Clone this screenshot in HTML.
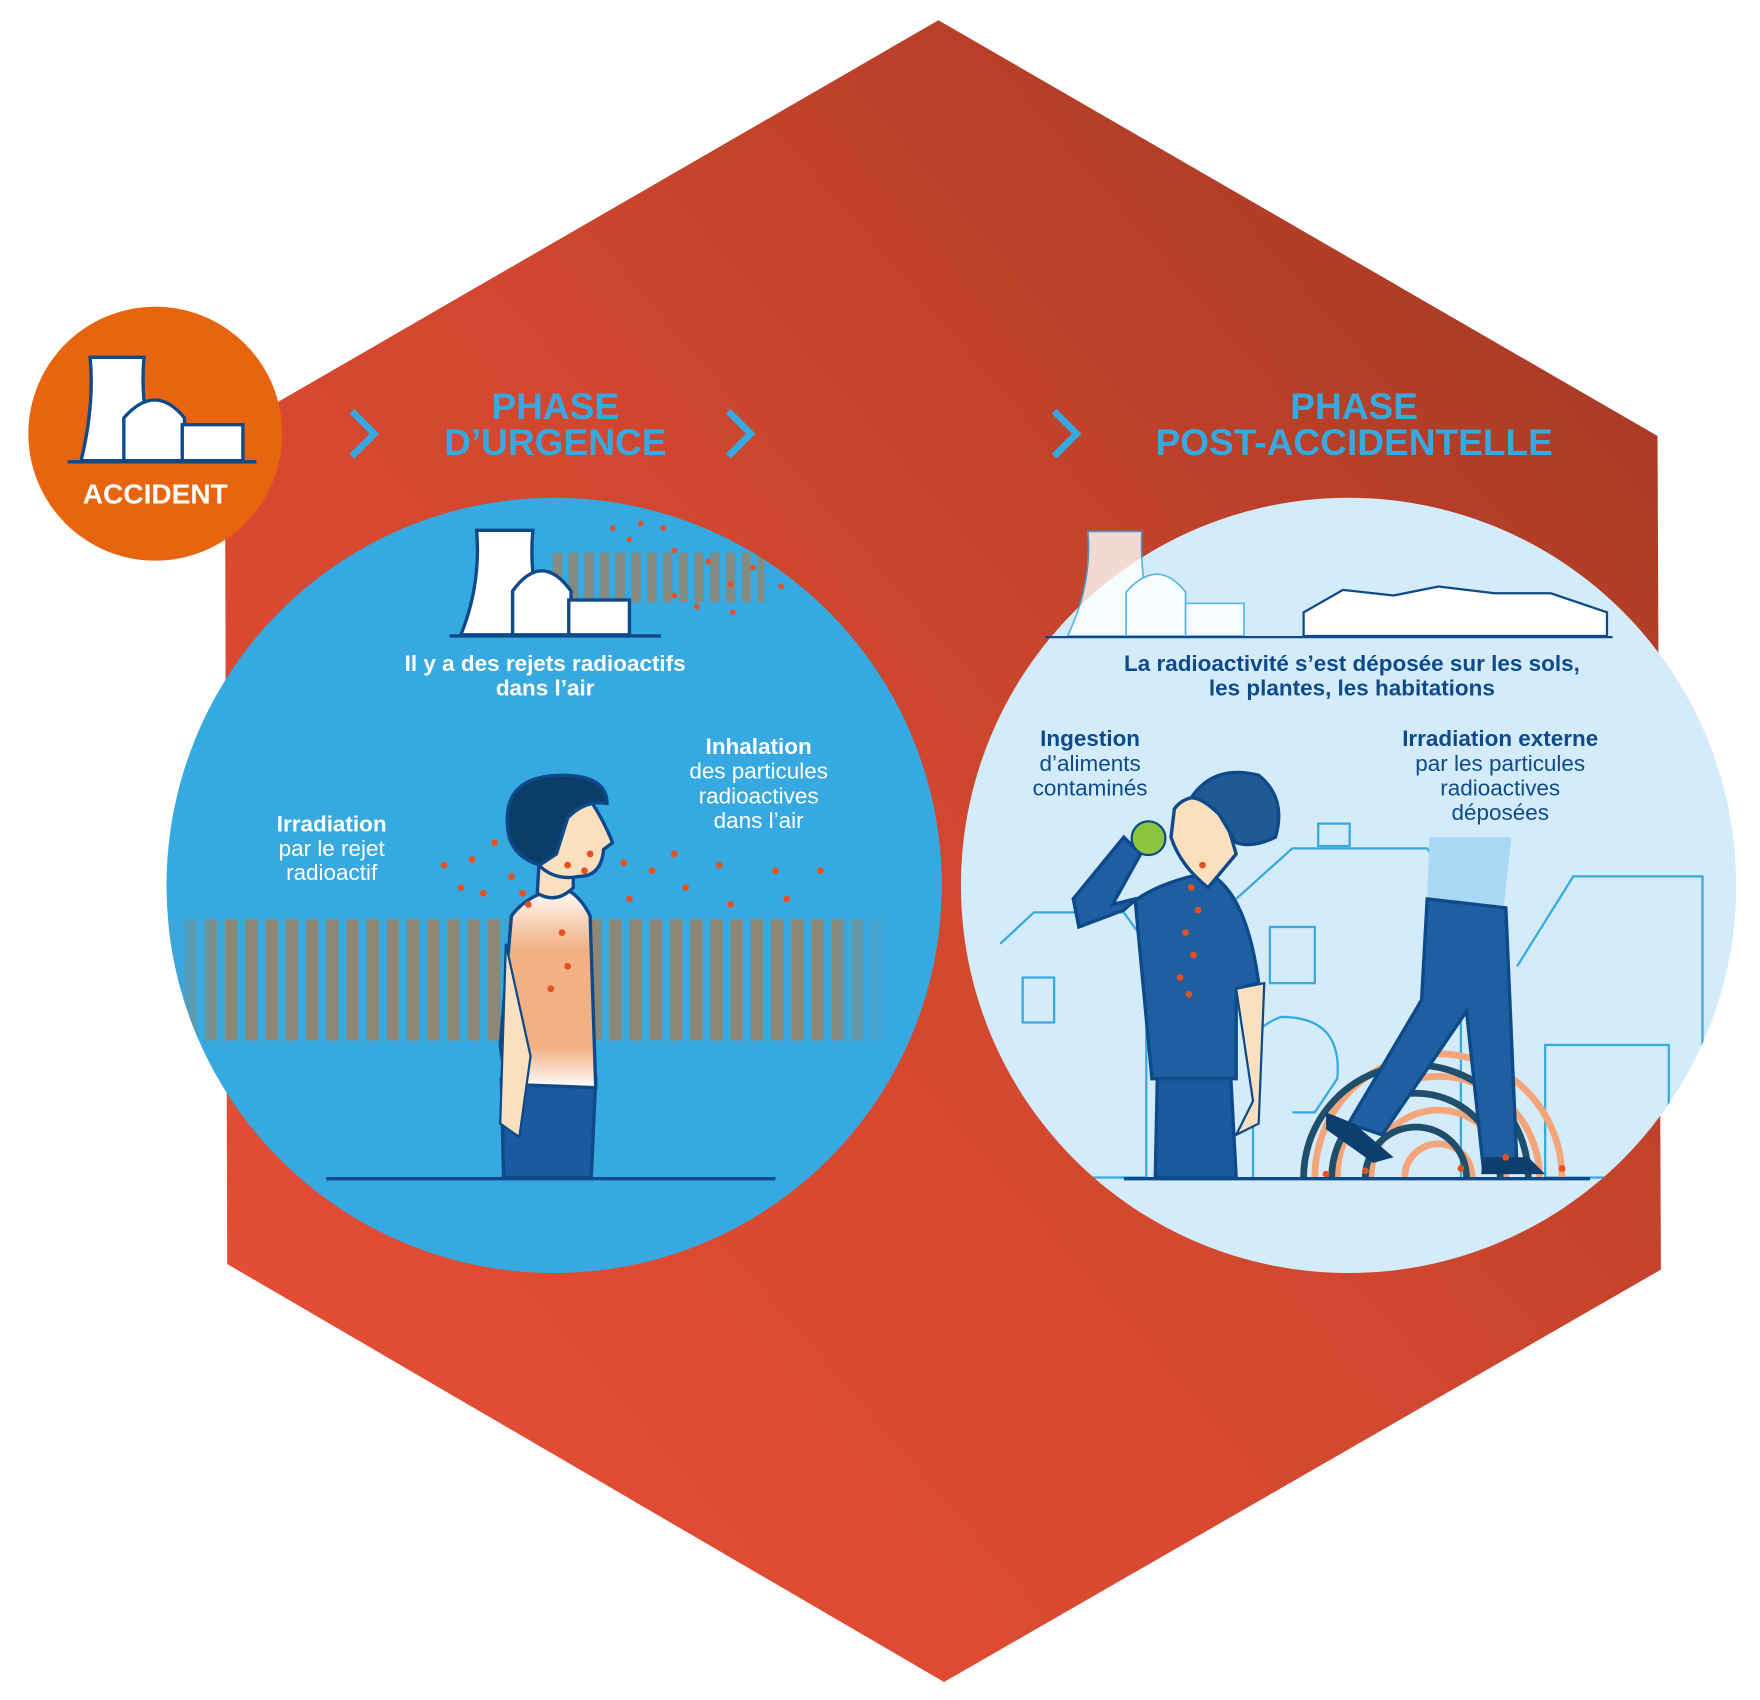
<!DOCTYPE html>
<html><head><meta charset="utf-8"><style>
html,body{margin:0;padding:0;background:#fff;}
svg{display:block;}
text{font-family:"Liberation Sans",sans-serif;}
</style></head><body>
<svg width="1760" height="1700" viewBox="0 0 1566 1513" xmlns="http://www.w3.org/2000/svg">
<defs>
<linearGradient id="hex" x1="0" y1="1" x2="1" y2="0">
<stop offset="0" stop-color="#e84f36"/><stop offset="0.5" stop-color="#d2472f"/><stop offset="1" stop-color="#9e3822"/>
</linearGradient>
<pattern id="waves" width="18" height="120" patternUnits="userSpaceOnUse">
<rect width="18" height="120" fill="#36a9e0"/><rect x="2" width="11" height="120" fill="#8f8775"/>
</pattern>
<linearGradient id="fadeL" x1="0" x2="1"><stop offset="0" stop-color="#36a9e0" stop-opacity="1"/><stop offset="0.08" stop-color="#36a9e0" stop-opacity="0"/><stop offset="0.92" stop-color="#36a9e0" stop-opacity="0"/><stop offset="1" stop-color="#36a9e0" stop-opacity="1"/></linearGradient>
<pattern id="wavesTop" width="14" height="60" patternUnits="userSpaceOnUse">
<rect width="14" height="60" fill="#36a9e0"/><rect x="2" width="8" height="60" fill="#8f8775"/>
</pattern>
<linearGradient id="shirt" x1="0" y1="0" x2="0" y2="1"><stop offset="0" stop-color="#fff"/><stop offset="0.3" stop-color="#f2b185"/><stop offset="0.8" stop-color="#f2b185"/><stop offset="1" stop-color="#fff"/></linearGradient>
</defs>

<polygon points="835,18 1475,388 1478,1130 840,1497 202,1125 200,385" fill="url(#hex)"/>

<circle cx="138" cy="386" r="113" fill="#e8650f"/>
<g stroke="#0e4a8a" stroke-width="3" fill="#fff">
<path d="M72,410 Q84,360 80,318 L128,318 Q124,360 138,410 Z"/>
<path d="M110,410 L110,372 Q138,340 164,372 L164,410 Z"/>
<rect x="162" y="378" width="54" height="32"/>
<line x1="60" y1="411" x2="228" y2="411"/>
</g>
<text x="138" y="448" text-anchor="middle" font-size="25" font-weight="bold" fill="#fff">ACCIDENT</text>

<g fill="none" stroke="#36a9e0" stroke-width="6">
<polyline points="313,366 333,386 313,406"/>
<polyline points="648,366 668,386 648,406"/>
<polyline points="938,366 958,386 938,406"/>
</g>
<g font-size="33" font-weight="bold" fill="#36a9e0" text-anchor="middle">
<text x="494" y="373">PHASE</text><text x="494" y="405">D’URGENCE</text>
<text x="1205" y="373">PHASE</text><text x="1205" y="405">POST-ACCIDENTELLE</text>
</g>

<circle cx="493" cy="788" r="345" fill="#36a9e0"/>
<clipPath id="cl"><circle cx="493" cy="788" r="345"/></clipPath>
<g clip-path="url(#cl)">
<rect x="150" y="818" width="640" height="108" fill="url(#waves)"/>
<rect x="150" y="818" width="640" height="108" fill="url(#fadeL)"/>
<rect x="490" y="492" width="190" height="44" fill="url(#wavesTop)" opacity="0.9"/>
</g>
<g stroke="#0e4a8a" stroke-width="3" fill="#fff">
<path d="M410,565 Q428,520 424,472 L474,472 Q470,520 486,565 Z"/>
<path d="M456,565 L456,526 Q482,490 508,526 L508,565 Z"/>
<rect x="506" y="534" width="54" height="31"/>
<line x1="400" y1="566" x2="588" y2="566"/>
</g>
<g fill="#e8501e">
<circle cx="570" cy="466" r="2.5"/><circle cx="590" cy="470" r="2.5"/><circle cx="600" cy="490" r="2.5"/><circle cx="630" cy="500" r="2.5"/><circle cx="650" cy="520" r="2.5"/><circle cx="670" cy="505" r="2.5"/><circle cx="695" cy="522" r="2.5"/><circle cx="620" cy="540" r="2.5"/><circle cx="652" cy="545" r="2.5"/><circle cx="600" cy="530" r="2.5"/><circle cx="560" cy="480" r="2.5"/><circle cx="545" cy="470" r="2.5"/>
</g>
<g font-size="20" fill="#fff" text-anchor="middle">
<text x="485" y="597" font-weight="bold">Il y a des rejets radioactifs</text>
<text x="485" y="619" font-weight="bold">dans l’air</text>
<text x="295" y="740" font-weight="bold">Irradiation</text>
<text x="295" y="762">par le rejet</text>
<text x="295" y="783">radioactif</text>
<text x="675" y="671" font-weight="bold">Inhalation</text>
<text x="675" y="693">des particules</text>
<text x="675" y="715">radioactives</text>
<text x="675" y="737">dans l’air</text>
</g>
<path d="M448,1048 L446,960 L530,960 L526,1048 Z" fill="#1a5a9e" stroke="#0e4a8a" stroke-width="3"/>
<path d="M500,790 Q470,795 455,815 L445,930 L450,965 L530,968 L525,815 Q515,795 500,790 Z" fill="url(#shirt)" stroke="#0e4a8a" stroke-width="3"/>
<path d="M450,840 L445,1000 L462,1012 L472,940 Z" fill="#fbe0c0" stroke="#0e4a8a" stroke-width="2"/>
<path d="M480,760 L478,795 Q495,805 510,790 L510,760 Z" fill="#fbe0c0" stroke="#0e4a8a" stroke-width="3"/>
<path d="M470,720 Q478,700 520,705 Q535,725 545,750 L537,756 Q535,780 515,780 Q490,785 475,765 Z" fill="#fbe0c0" stroke="#0e4a8a" stroke-width="3"/>
<path d="M452,740 Q445,690 500,690 Q540,690 540,715 Q520,712 505,728 L495,760 L480,770 Q455,762 452,740 Z" fill="#0a3e68" stroke="#0e4a8a" stroke-width="3"/>
<g fill="#e8501e">
<circle cx="395" cy="770" r="3"/><circle cx="420" cy="765" r="3"/><circle cx="440" cy="750" r="3"/><circle cx="410" cy="790" r="3"/><circle cx="430" cy="795" r="3"/><circle cx="455" cy="780" r="3"/><circle cx="465" cy="795" r="3"/><circle cx="505" cy="770" r="3"/><circle cx="520" cy="775" r="3"/><circle cx="525" cy="760" r="3"/><circle cx="555" cy="768" r="3"/><circle cx="560" cy="800" r="3"/><circle cx="580" cy="775" r="3"/><circle cx="600" cy="760" r="3"/><circle cx="610" cy="790" r="3"/><circle cx="640" cy="770" r="3"/><circle cx="650" cy="805" r="3"/><circle cx="690" cy="775" r="3"/><circle cx="730" cy="775" r="3"/><circle cx="700" cy="800" r="3"/><circle cx="500" cy="830" r="3"/><circle cx="505" cy="860" r="3"/><circle cx="490" cy="880" r="3"/><circle cx="470" cy="805" r="3"/>
</g>
<line x1="290" y1="1049" x2="690" y2="1049" stroke="#0e4a8a" stroke-width="3"/>

<circle cx="1200" cy="788" r="345" fill="#d4ebf9"/>
<clipPath id="cr"><circle cx="1200" cy="788" r="345"/></clipPath>
<clipPath id="cg"><rect x="1000" y="800" width="500" height="249"/></clipPath>
<g clip-path="url(#cr)" fill="none" stroke="#36a9e0" stroke-width="2">
<path d="M890,840 L920,812 L1000,812 L1020,840 L1020,1048 L890,1048"/>
<path d="M1100,800 L1150,755 L1270,755 L1300,800 L1300,1048"/>
<rect x="1130" y="825" width="40" height="50"/>
<rect x="1173" y="733" width="28" height="20"/>
<path d="M1350,860 L1400,780 L1515,780 L1515,1048"/>
<rect x="1375" y="930" width="110" height="118"/>
<rect x="910" y="870" width="28" height="40"/>
<path d="M1115,1048 L1115,960 Q1100,920 1140,905 Q1195,905 1190,960 L1170,990 L1150,990"/>
</g>
<g stroke="#36a9e0" stroke-width="1.5" fill="#fff" opacity="0.8">
<path d="M950,566 Q972,520 968,473 L1016,473 Q1014,520 1028,566 Z"/>
<path d="M1002,566 L1002,527 Q1030,495 1055,527 L1055,566 Z"/>
<rect x="1055" y="537" width="52" height="29"/>
</g>
<path d="M1160,566 L1160,545 L1195,525 L1240,530 L1280,522 L1330,528 L1380,528 L1430,545 L1430,566 Z" fill="#fff" stroke="#0e4a8a" stroke-width="2"/>
<line x1="930" y1="567" x2="1435" y2="567" stroke="#0e4a8a" stroke-width="2"/>
<g font-size="20" fill="#0e4a8a" text-anchor="middle">
<text x="1203" y="597" font-weight="bold">La radioactivité s’est déposée sur les sols,</text>
<text x="1203" y="619" font-weight="bold">les plantes, les habitations</text>
<text x="970" y="664" font-weight="bold">Ingestion</text>
<text x="970" y="686">d’aliments</text>
<text x="970" y="708">contaminés</text>
<text x="1335" y="664" font-weight="bold">Irradiation externe</text>
<text x="1335" y="686">par les particules</text>
<text x="1335" y="708">radioactives</text>
<text x="1335" y="730">déposées</text>
</g>
<g fill="none" stroke-width="6" clip-path="url(#cg)">
<circle cx="1280" cy="1048" r="30" stroke="#f4a57a"/><circle cx="1280" cy="1048" r="60" stroke="#f4a57a"/><circle cx="1280" cy="1048" r="90" stroke="#f4a57a"/><circle cx="1280" cy="1048" r="110" stroke="#f4a57a"/>
<circle cx="1260" cy="1048" r="45" stroke="#1f4f6a"/><circle cx="1260" cy="1048" r="75" stroke="#1f4f6a"/><circle cx="1260" cy="1048" r="100" stroke="#1f4f6a"/>
</g>
<path d="M1272,745 L1345,745 L1338,808 L1270,800 Z" fill="#a8d8f4"/>
<path d="M1270,800 L1340,808 L1350,1040 L1320,1040 L1305,900 L1230,1010 L1200,1000 L1265,890 Z" fill="#1d5fa0" stroke="#0e4a8a" stroke-width="3"/>
<path d="M1180,990 L1205,1000 L1240,1030 L1222,1035 L1180,1005 Z" fill="#0e3e6e"/>
<path d="M1320,1030 L1360,1030 L1375,1045 L1318,1045 Z" fill="#0e3e6e"/>
<path d="M1030,950 L1028,1048 L1100,1048 L1095,955 Z" fill="#1a5a9e" stroke="#0e4a8a" stroke-width="3"/>
<path d="M1060,780 Q1020,790 1000,810 L960,825 L955,800 L1000,745 L1015,760 L990,805 L1010,800 L1025,960 L1100,960 L1100,880 L1120,875 Q1110,800 1080,780 Z" fill="#1d5fa0" stroke="#0e4a8a" stroke-width="3"/>
<path d="M1100,880 L1115,980 L1100,1010 L1120,1000 L1125,875 Z" fill="#fbe0c0" stroke="#0e4a8a" stroke-width="2"/>
<path d="M1045,720 Q1055,705 1085,710 L1100,760 L1075,790 Q1050,770 1042,745 Z" fill="#fbe0c0" stroke="#0e4a8a" stroke-width="3"/>
<path d="M1060,710 Q1080,680 1120,690 Q1145,710 1135,745 Q1115,755 1100,750 L1085,725 Q1070,710 1060,710 Z" fill="#1f5a96" stroke="#0e4a8a" stroke-width="3"/>
<circle cx="1022" cy="746" r="15" fill="#8cc63f" stroke="#0e4a8a" stroke-width="2"/>
<g fill="#e8501e">
<circle cx="1060" cy="790" r="3"/><circle cx="1066" cy="810" r="3"/><circle cx="1055" cy="830" r="3"/><circle cx="1062" cy="850" r="3"/><circle cx="1050" cy="870" r="3"/><circle cx="1058" cy="885" r="3"/><circle cx="1070" cy="770" r="3"/><circle cx="1180" cy="1045" r="3"/><circle cx="1215" cy="1042" r="3"/><circle cx="1300" cy="1040" r="3"/><circle cx="1340" cy="1030" r="3"/><circle cx="1390" cy="1040" r="3"/>
</g>
<line x1="1000" y1="1049" x2="1415" y2="1049" stroke="#0e4a8a" stroke-width="3"/>
</svg>
</body></html>
